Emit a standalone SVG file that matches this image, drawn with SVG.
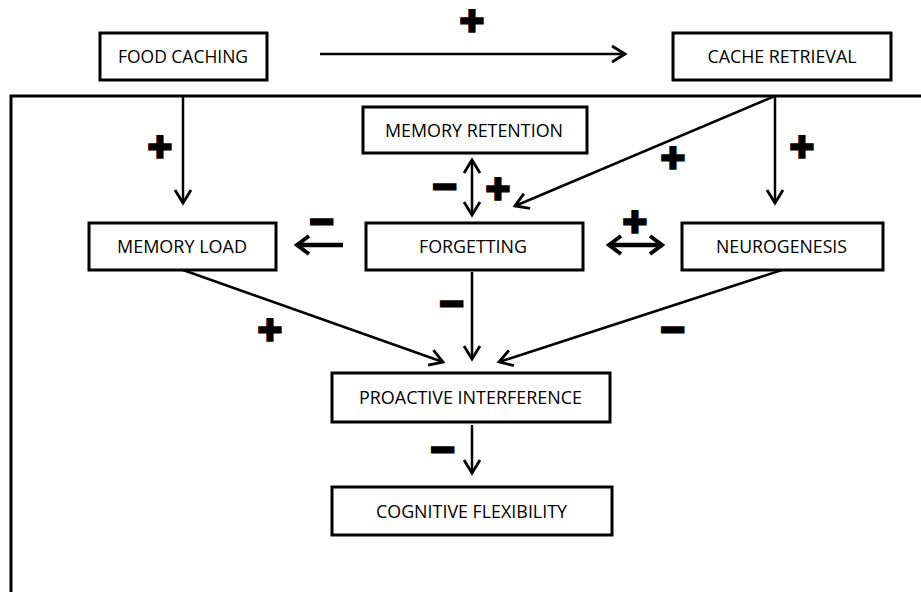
<svg xmlns="http://www.w3.org/2000/svg" width="921" height="592" viewBox="0 0 921 592">
<style>
.box{fill:#fff;stroke:#000;stroke-width:3}
.lbl{font-family:"Open Sans",Lato,sans-serif;font-size:18px;fill:#000;text-anchor:middle}
.c{stroke:#000;stroke-width:2.5;fill:none}
.cb{stroke:#000;stroke-width:4.5;fill:none}
.frame{stroke:#000;stroke-width:3;fill:none}
.sg{font-family:"DejaVu Sans",sans-serif;font-weight:bold;font-size:32px;fill:#000;stroke:#000;stroke-width:3.5;text-anchor:middle}
</style>
<defs>
<marker id="h" markerUnits="userSpaceOnUse" viewBox="-16 -10 20 20" refX="0" refY="0" markerWidth="20" markerHeight="20" orient="auto-start-reverse">
<path d="M-13,-8 L0,0 L-13,8" fill="none" stroke="#000" stroke-width="2.8" stroke-linejoin="miter"/>
</marker>
<marker id="hb" markerUnits="userSpaceOnUse" viewBox="-16 -12 20 24" refX="0" refY="0" markerWidth="20" markerHeight="24" orient="auto-start-reverse">
<path d="M-12,-9 L0,0 L-12,9" fill="none" stroke="#000" stroke-width="4" stroke-linejoin="miter"/>
</marker>
</defs>
<g id="frame">
<path class="frame" d="M11,592 L11,96 L921,96"/>
</g>
<g id="connectors">
<line class="c" x1="320" y1="54" x2="625" y2="54" marker-end="url(#h)"/>
<line class="c" x1="183" y1="96" x2="183" y2="203" marker-end="url(#h)"/>
<line class="c" x1="775" y1="96" x2="515" y2="206" marker-end="url(#h)"/>
<line class="c" x1="775" y1="96" x2="775" y2="203" marker-end="url(#h)"/>
<line class="c" x1="472" y1="160" x2="472" y2="215" marker-start="url(#h)" marker-end="url(#h)"/>
<line class="cb" x1="343" y1="245" x2="297" y2="245" marker-end="url(#hb)"/>
<line class="cb" x1="609" y1="245" x2="662" y2="245" marker-start="url(#hb)" marker-end="url(#hb)"/>
<line class="c" x1="183" y1="270" x2="443" y2="362" marker-end="url(#h)"/>
<line class="c" x1="472" y1="272" x2="472" y2="359" marker-end="url(#h)"/>
<line class="c" x1="782" y1="270" x2="499" y2="362" marker-end="url(#h)"/>
<line class="c" x1="472" y1="425" x2="472" y2="473" marker-end="url(#h)"/>
</g>
<g id="signs">
<text class="sg" x="472" y="31">+</text>
<text class="sg" x="160" y="157">+</text>
<text class="sg" x="445" y="197">−</text>
<text class="sg" x="498" y="199">+</text>
<text class="sg" x="673" y="168">+</text>
<text class="sg" x="802" y="157">+</text>
<text class="sg" x="322" y="232">−</text>
<text class="sg" x="635" y="232">+</text>
<text class="sg" x="270" y="340">+</text>
<text class="sg" x="452" y="314">−</text>
<text class="sg" x="673" y="340">−</text>
<text class="sg" x="443" y="460">−</text>
</g>
<g id="food-caching">
<rect class="box" x="100" y="33" width="167" height="47"/>
<text class="lbl" x="183" y="63" textLength="130" lengthAdjust="spacingAndGlyphs">FOOD CACHING</text>
</g>
<g id="cache-retrieval">
<rect class="box" x="673" y="33" width="218" height="47"/>
<text class="lbl" x="782" y="63" textLength="149" lengthAdjust="spacingAndGlyphs">CACHE RETRIEVAL</text>
</g>
<g id="memory-retention">
<rect class="box" x="363" y="107" width="224" height="46"/>
<text class="lbl" x="474" y="137" textLength="178" lengthAdjust="spacingAndGlyphs">MEMORY RETENTION</text>
</g>
<g id="memory-load">
<rect class="box" x="89" y="223" width="187" height="47"/>
<text class="lbl" x="182" y="253" textLength="130" lengthAdjust="spacingAndGlyphs">MEMORY LOAD</text>
</g>
<g id="forgetting">
<rect class="box" x="366" y="223" width="217" height="47"/>
<text class="lbl" x="473" y="253" textLength="108" lengthAdjust="spacingAndGlyphs">FORGETTING</text>
</g>
<g id="neurogenesis">
<rect class="box" x="682" y="223" width="201" height="47"/>
<text class="lbl" x="781.5" y="253" textLength="131" lengthAdjust="spacingAndGlyphs">NEUROGENESIS</text>
</g>
<g id="proactive-interference">
<rect class="box" x="332" y="373" width="278" height="49"/>
<text class="lbl" x="470.5" y="404" textLength="223" lengthAdjust="spacingAndGlyphs">PROACTIVE INTERFERENCE</text>
</g>
<g id="cognitive-flexibility">
<rect class="box" x="332" y="487" width="280" height="48"/>
<text class="lbl" x="471.5" y="517.5" textLength="191" lengthAdjust="spacingAndGlyphs">COGNITIVE FLEXIBILITY</text>
</g>
</svg>
